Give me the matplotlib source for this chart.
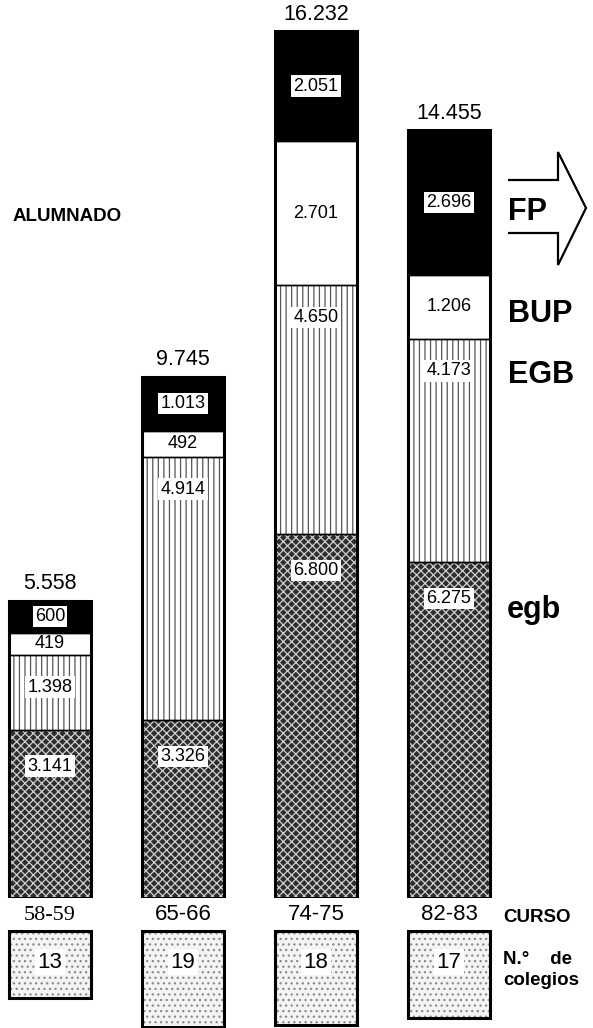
import matplotlib
matplotlib.use('Agg')
import matplotlib.pyplot as plt
import numpy as np
from matplotlib.transforms import blended_transform_factory
from matplotlib.patches import Rectangle, PathPatch
from matplotlib.path import Path

# ---------------- data ----------------
cursos = ['58-59', '65-66', '74-75', '82-83']
egb_inferior = [3141, 3326, 6800, 6275]     # "egb"
egb_superior = [1398, 4914, 4650, 4173]     # "EGB"
bup = [419, 492, 2701, 1206]                # "BUP"
fp = [600, 1013, 2051, 2696]                # "FP"
totales = [5558, 9745, 16232, 14455]
colegios = [13, 19, 18, 17]

plt.rcParams['font.family'] = ['Liberation Sans', 'DejaVu Sans']
plt.rcParams['hatch.linewidth'] = 0.9

W, H = 593, 1028
fig = plt.figure(figsize=(W / 100, H / 100), dpi=100)

base_px = 898
px_per_unit = 0.0535
ax = fig.add_axes([0, (H - base_px) / H, 1, base_px / H])
ax.set_ylim(0, base_px / px_per_unit)
ax.set_xlim(-50 / 133, (W - 50) / 133)
ax.axis('off')

def fmt(v):
    return f"{v:,}".replace(',', '.')

x = np.arange(len(cursos))
width = 0.62

segments = [
    (egb_inferior, '#2e2e2e', 'xxxx', '#d0d0d0'),
    (egb_superior, 'white', '|||', '#555555'),
    (bup, 'white', None, 'white'),
    (fp, 'black', None, 'black'),
]

bottom = np.zeros(len(cursos))
bottoms = []
for vals, face, hatch, hcol in segments:
    vals = np.array(vals, dtype=float)
    ax.bar(x, vals, width, bottom=bottom, color=face, edgecolor=hcol,
           hatch=hatch, linewidth=0, zorder=1)
    ax.bar(x, vals, width, bottom=bottom, fill=False, edgecolor='black',
           linewidth=1.0, zorder=2)
    bottoms.append(bottom.copy())
    bottom = bottom + vals
tops = bottom
ax.bar(x, tops, width, fill=False, edgecolor='black', linewidth=2.2, zorder=3)

lab_fs = 13
box_white = dict(boxstyle='square,pad=0.12', facecolor='white', edgecolor='none')
for i in range(len(cursos)):
    ax.text(i, bottoms[3][i] + fp[i] / 2, fmt(fp[i]), ha='center', va='center',
            fontsize=lab_fs, color='black', bbox=box_white, zorder=5)
    ax.text(i, bottoms[2][i] + bup[i] / 2, fmt(bup[i]), ha='center', va='center',
            fontsize=lab_fs, color='black', zorder=5)
    ax.annotate(fmt(egb_superior[i]), (i, bottoms[2][i]), xytext=(0, -23),
                textcoords='offset points', ha='center', va='center',
                fontsize=lab_fs, bbox=box_white, zorder=5)
    ax.annotate(fmt(egb_inferior[i]), (i, bottoms[1][i]), xytext=(0, -26),
                textcoords='offset points', ha='center', va='center',
                fontsize=lab_fs, bbox=box_white, zorder=5)
    ax.annotate(fmt(totales[i]), (i, tops[i]), xytext=(0, 12),
                textcoords='offset points', ha='center', va='center',
                fontsize=15.5, zorder=5)

# ---------------- overlay in pixel coordinates ----------------
ov = fig.add_axes([0, 0, 1, 1], zorder=5)
ov.set_xlim(0, W)
ov.set_ylim(H, 0)
ov.axis('off')
ov.patch.set_alpha(0)
trans = blended_transform_factory(ax.transData, ov.transData)

box_top = 931
box_bottom = [998, 1027, 1025, 1018]
for i in range(len(cursos)):
    fam = 'Liberation Serif' if i == 0 else 'Liberation Sans'
    ov.text(i, 915, cursos[i], transform=trans, ha='center', va='center',
            fontsize=16, family=fam)
    r = Rectangle((i - width / 2, box_top), width, box_bottom[i] - box_top,
                  transform=trans, facecolor='#f4f4f4', edgecolor='#8a8a8a',
                  hatch='...', linewidth=0)
    ov.add_patch(r)
    r2 = Rectangle((i - width / 2, box_top), width, box_bottom[i] - box_top,
                   transform=trans, fill=False, edgecolor='black', linewidth=2.2)
    ov.add_patch(r2)
    ov.text(i, 962, str(colegios[i]), transform=trans, ha='center', va='center',
            fontsize=16, bbox=dict(boxstyle='square,pad=0.1', facecolor='white',
                                   edgecolor='none'))

big = 22
ov.text(508, 220, 'FP', fontsize=big, fontweight='bold', ha='left', va='baseline')
ov.text(508, 322, 'BUP', fontsize=big, fontweight='bold', ha='left', va='baseline')
ov.text(508, 383, 'EGB', fontsize=big, fontweight='bold', ha='left', va='baseline')
ov.text(507, 618, 'egb', fontsize=big, fontweight='bold', ha='left', va='baseline')
ov.text(13, 221, 'ALUMNADO', fontsize=13.5, fontweight='bold', ha='left', va='baseline')
ov.text(503, 922, 'CURSO', fontsize=13.5, fontweight='bold', ha='left', va='baseline')
ov.text(503, 964, 'N.°    de', fontsize=13.5, fontweight='bold', ha='left', va='baseline')
ov.text(503, 985, 'colegios', fontsize=13.5, fontweight='bold', ha='left', va='baseline')

arrow = Path([(508, 180), (558, 180), (558, 152), (586, 208), (558, 265),
              (558, 233), (508, 233)])
ov.add_patch(PathPatch(arrow, fill=False, edgecolor='black', linewidth=1.6,
                       joinstyle='miter'))

fig.savefig('out.png', dpi=100)
